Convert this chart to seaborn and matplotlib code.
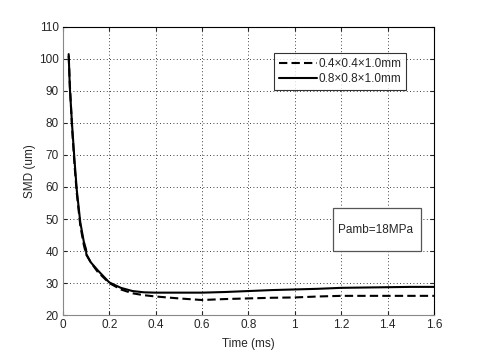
import pandas as pd
import matplotlib
matplotlib.use("Agg")
import matplotlib.pyplot as plt
from matplotlib.patches import Rectangle
import seaborn as sns

sns.set_style("white")
plt.rcParams["font.family"] = ["Liberation Sans", "DejaVu Sans"]

# ── Data ─────────────────────────────────────────────────
time_small = [0.025, 0.03, 0.04, 0.05, 0.06, 0.075, 0.09, 0.1, 0.12, 0.15, 0.2, 0.25, 0.3,
              0.35, 0.4, 0.5, 0.6, 0.7, 0.8, 0.9, 1.0, 1.1, 1.2, 1.3, 1.4, 1.5, 1.6]
smd_small = [101.0, 92.0, 78.0, 67.0, 58.0, 48.0, 42.0, 39.0, 36.5, 33.5, 30.0, 28.0, 26.8,
             26.2, 25.8, 25.2, 24.7, 25.0, 25.2, 25.4, 25.5, 25.8, 26.0, 26.0, 26.0, 26.0, 26.0]

time_large = [0.025, 0.03, 0.04, 0.05, 0.06, 0.075, 0.09, 0.1, 0.101, 0.12, 0.15, 0.2, 0.25, 0.3,
              0.35, 0.4, 0.5, 0.6, 0.7, 0.8, 0.9, 1.0, 1.1, 1.2, 1.3, 1.4, 1.5, 1.6]
smd_large = [101.5, 91.0, 79.0, 68.5, 59.0, 49.0, 43.0, 40.5, 39.0, 36.5, 34.0, 30.2, 28.5, 27.5,
             27.1, 27.0, 27.0, 27.0, 27.2, 27.5, 27.8, 28.0, 28.2, 28.5, 28.6, 28.7, 28.8, 28.8]

label_small = "0.4\u00d70.4\u00d71.0mm"
label_large = "0.8\u00d70.8\u00d71.0mm"

df = pd.concat([
    pd.DataFrame({"Time": time_small, "SMD": smd_small, "Nozzle": label_small}),
    pd.DataFrame({"Time": time_large, "SMD": smd_large, "Nozzle": label_large}),
])

fig = plt.figure(figsize=(4.8, 3.54), dpi=100)
ax = fig.add_axes([0.131, 0.110, 0.773, 0.814])

sns.lineplot(data=df, x="Time", y="SMD", style="Nozzle", color="black",
             dashes={label_small: (4, 2), label_large: ""},
             linewidth=1.5, sort=False, estimator=None, ax=ax)

ax.set_xlim(0, 1.6)
ax.set_ylim(20, 110)
ax.set_xticks([0, 0.2, 0.4, 0.6, 0.8, 1, 1.2, 1.4, 1.6])
ax.set_xticklabels(["0", "0.2", "0.4", "0.6", "0.8", "1", "1.2", "1.4", "1.6"])
ax.set_yticks(range(20, 111, 10))
ax.grid(True, color="black", linestyle=(0, (1, 3)), linewidth=0.6)
ax.tick_params(direction="in", length=3, labelsize=8.5, top=True, right=True,
               bottom=True, left=True, pad=3)
for s in ax.spines.values():
    s.set_color("black")
    s.set_linewidth(0.8)
ax.spines["left"].set_color("#888888")
ax.spines["bottom"].set_color("#888888")

ax.set_xlabel("Time (ms)", fontsize=8.5, labelpad=5)
ax.set_ylabel("SMD (um)", fontsize=8.5, labelpad=2)

leg = ax.legend(loc="upper right", bbox_to_anchor=(0.94, 0.93), fontsize=8.5,
                frameon=True, fancybox=False, edgecolor="black", handlelength=3.2,
                handletextpad=0.1, borderpad=0.4, labelspacing=0.3)
leg.get_frame().set_linewidth(0.8)
leg.set_title(None)

# annotation box
ax.add_patch(Rectangle((1.164, 40.0), 0.38, 13.4, facecolor="white",
                       edgecolor="#555555", linewidth=0.9, zorder=5))
ax.text(1.185, 46.7, "Pamb=18MPa", fontsize=8.5, va="center", ha="left", zorder=6)

plt.savefig("out.png", dpi=100)
plt.close()
